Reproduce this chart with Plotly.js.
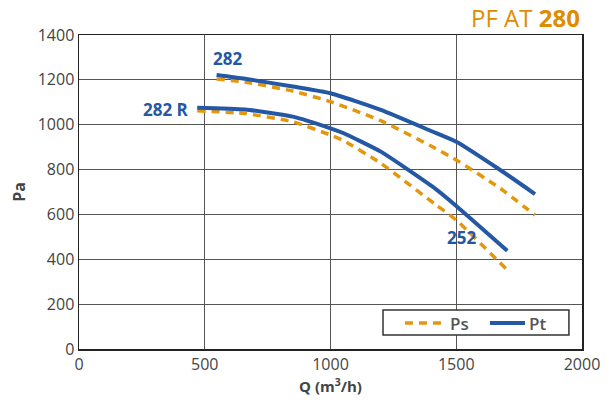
<!DOCTYPE html>
<html>
<head>
<meta charset="utf-8">
<script src="https://cdn.plot.ly/plotly-3.0.1.min.js"></script>
<style>html,body{margin:0;padding:0;background:#fff;}#chart{width:614px;height:405px;}</style>
</head>
<body>
<div id="chart"></div>
<script>
// Data
const q282 = [547, 660, 850, 1000, 1200, 1400, 1500, 1675, 1813];
const pt282 = [1222, 1205, 1170, 1140, 1066, 972, 924, 798, 691];
const ps282 = [1204, 1190, 1150, 1103, 1018, 905, 843, 716, 597];

const q282R = [470, 660, 850, 1000, 1050, 1200, 1420, 1500, 1703];
const pt282R = [1076, 1068, 1036, 984, 963, 880, 712, 638, 438];
const ps282R = [1062, 1050, 1013, 954, 930, 828, 642, 575, 352];

const curveLabels = ["282", "282 R", "252"];
const labelQ = [590, 346, 1521];
const labelPa = [1296, 1066, 496];

const legendNames = ["Ps", "Pt"];

const xTicks = [0, 500, 1000, 1500, 2000];
const yTicks = [0, 200, 400, 600, 800, 1000, 1200, 1400];

const BLUE = '#2457a4';
const ORANGE = '#e5960c';

function ps(x, y) {
  return {x: x, y: y, type: 'scatter', mode: 'lines', name: 'Ps', showlegend: false,
    line: {color: ORANGE, width: 3.5, dash: '8px,6px', shape: 'spline', smoothing: 0.5}};
}
function pt(x, y) {
  return {x: x, y: y, type: 'scatter', mode: 'lines', name: 'Pt', showlegend: false,
    line: {color: BLUE, width: 4, shape: 'spline', smoothing: 0.5}};
}

const data = [
  ps(q282, ps282),
  ps(q282R, ps282R),
  pt(q282, pt282),
  pt(q282R, pt282R)
];

const annotations = curveLabels.map((t, i) => ({
  x: labelQ[i], y: labelPa[i], xref: 'x', yref: 'y', text: '<b>' + t + '</b>',
  showarrow: false, font: {family: 'Open Sans', size: 17, color: BLUE}
}));
annotations.push({
  x: 1, y: 1.057, xref: 'x domain', yref: 'y domain', xanchor: 'right', yanchor: 'middle',
  text: 'PF AT <b>280</b>', showarrow: false,
  font: {family: 'Liberation Sans Narrow, Open Sans', size: 24, color: '#e08c00'}
});
// legend texts
const legX = [0.7336, 0.8907];
legendNames.forEach((n, i) => annotations.push({
  x: legX[i], y: 0.0828, xref: 'x domain', yref: 'y domain', xanchor: 'left', yanchor: 'middle',
  text: n, showarrow: false,
  font: {family: 'Open Sans', size: 17, color: '#555', weight: 600}
}));

const shapes = [
  {type: 'rect', xref: 'x domain', yref: 'y domain', x0: 0.6044, x1: 0.974, y0: 0.0446, y1: 0.1242,
   line: {color: '#333', width: 1.5}, fillcolor: '#fff', layer: 'above'},
  {type: 'line', xref: 'x domain', yref: 'y domain', x0: 0.648, x1: 0.7217, y0: 0.0828, y1: 0.0828,
   line: {color: ORANGE, width: 3.5, dash: '8px,6px'}, layer: 'above'},
  {type: 'line', xref: 'x domain', yref: 'y domain', x0: 0.8171, x1: 0.8867, y0: 0.0828, y1: 0.0828,
   line: {color: BLUE, width: 4}, layer: 'above'}
];

const layout = {
  width: 614, height: 405,
  margin: {l: 79, r: 32, t: 35, b: 56},
  paper_bgcolor: '#fff', plot_bgcolor: '#fff',
  font: {family: 'Open Sans', color: '#444'},
  showlegend: false,
  xaxis: {
    range: [0, 2000], tickvals: xTicks, ticktext: xTicks.map(String),
    showgrid: true, gridcolor: '#555', gridwidth: 1.2,
    showline: true, linecolor: '#222', linewidth: 1.5, mirror: true,
    zeroline: false, ticks: '',
    tickfont: {family: 'Open Sans', size: 16, color: '#444'},
    title: {text: '<b>Q (m<sup>3</sup>/h)</b>', font: {family: 'Open Sans', size: 15, color: '#444'}, standoff: 6}
  },
  yaxis: {
    range: [0, 1400], tickvals: yTicks, ticktext: yTicks.map(String),
    showgrid: true, gridcolor: '#555', gridwidth: 1.2,
    showline: true, linecolor: '#222', linewidth: 1.5, mirror: true,
    zeroline: false, ticks: '',
    tickfont: {family: 'Open Sans', size: 16, color: '#444'},
    title: {text: '<b>Pa</b>', font: {family: 'Open Sans', size: 16, color: '#444'}, standoff: 8}
  },
  shapes: shapes,
  annotations: annotations
};

Plotly.newPlot('chart', data, layout, {displayModeBar: false, staticPlot: true});
</script>
</body>
</html>
